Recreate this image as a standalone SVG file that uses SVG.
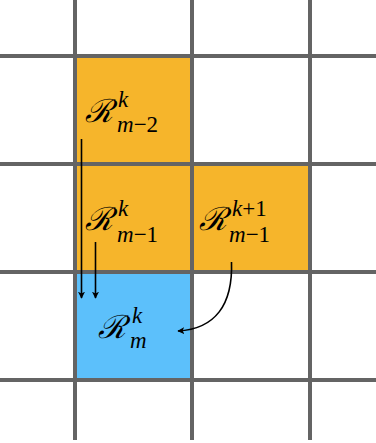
<svg xmlns="http://www.w3.org/2000/svg" width="376" height="443" viewBox="0 0 376 443">
<style>
.grid{stroke:#646464;stroke-width:4;fill:none}
.orange{fill:#F6B52B}
.blue{fill:#5CC0FB}
.R{font-family:"DejaVu Serif","Liberation Serif",serif;font-style:italic;font-size:32px;fill:#000}
.s{font-family:"Liberation Serif",serif;font-style:italic;font-size:23px;fill:#000}
.n{font-family:"Liberation Serif",serif;font-style:normal;font-size:23px;fill:#000}
.arr{stroke:#000;stroke-width:1.6;fill:none;marker-end:url(#ah)}
</style>
<defs>
<marker id="ah" viewBox="0 0 10 10" refX="9" refY="5" markerWidth="7" markerHeight="7" orient="auto" markerUnits="userSpaceOnUse">
<path d="M0,0 L10,5 L0,10 L2.5,5 Z" fill="#000"/>
</marker>
</defs>
<rect width="376" height="443" fill="#fff"/>
<g id="cell-m2-k"><rect class="orange" x="75" y="56" width="117" height="108"/>
<text class="R" x="85" y="122">ℛ</text><text class="s" x="118" y="107">k</text><text class="s" x="117" y="132">m<tspan class="n">−2</tspan></text></g>
<g id="cell-m1-k"><rect class="orange" x="75" y="164" width="117" height="108"/>
<text class="R" x="85" y="230">ℛ</text><text class="s" x="118" y="216">k</text><text class="s" x="117" y="242">m<tspan class="n">−1</tspan></text></g>
<g id="cell-m1-k1"><rect class="orange" x="192" y="164" width="118" height="108"/>
<text class="R" x="199" y="230">ℛ</text><text class="s" x="232" y="216">k<tspan class="n">+1</tspan></text><text class="s" x="229" y="242">m<tspan class="n">−1</tspan></text></g>
<g id="cell-m-k"><rect class="blue" x="75" y="272" width="117" height="108"/>
<text class="R" x="98" y="338">ℛ</text><text class="s" x="132" y="323">k</text><text class="s" x="130" y="348">m</text></g>
<g id="grid">
<line class="grid" x1="75" y1="0" x2="75" y2="440"/>
<line class="grid" x1="192" y1="0" x2="192" y2="440"/>
<line class="grid" x1="310" y1="0" x2="310" y2="440"/>
<line class="grid" x1="0" y1="56" x2="376" y2="56"/>
<line class="grid" x1="0" y1="164" x2="376" y2="164"/>
<line class="grid" x1="0" y1="272" x2="376" y2="272"/>
<line class="grid" x1="0" y1="380" x2="376" y2="380"/>
</g>
<g id="connectors">
<line class="arr" x1="81.5" y1="139" x2="81.5" y2="298"/>
<line class="arr" x1="95.5" y1="242" x2="95.5" y2="298"/>
<path class="arr" d="M231.5,262 C233,305 215,329 178,331"/>
</g>
</svg>
